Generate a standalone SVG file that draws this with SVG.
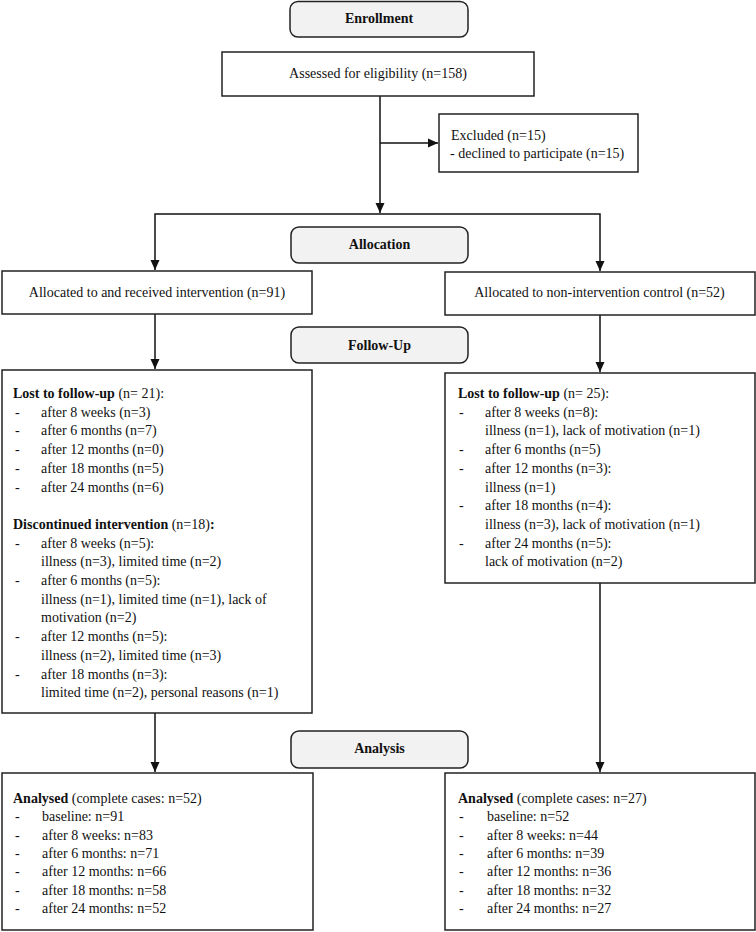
<svg xmlns="http://www.w3.org/2000/svg" width="756" height="932" viewBox="0 0 756 932">
<defs>
<marker id="arr" markerUnits="userSpaceOnUse" markerWidth="10" markerHeight="10" refX="10" refY="5" orient="auto">
<path d="M0,0.5 L10,5 L0,9.5 z" fill="#111"/>
</marker>
<style>
text{font-family:"Liberation Serif","Times New Roman",serif;font-size:14px;fill:#111}
.b{font-weight:bold}
.c{text-anchor:middle}
.hdr{fill:#f2f2f2;stroke:#222;stroke-width:1.5}
.box{fill:#fff;stroke:#222;stroke-width:1.5}
.ln{fill:none;stroke:#111;stroke-width:1.5}
</style>
</defs>
<rect width="756" height="932" fill="#fff"/>
<g id="connectors">
<path class="ln" d="M380 96 V213" marker-end="url(#arr)"/>
<path class="ln" d="M380 143 H438" marker-end="url(#arr)"/>
<path class="ln" d="M380 214 H155 V270" marker-end="url(#arr)"/>
<path class="ln" d="M380 214 H600 V271" marker-end="url(#arr)"/>
<path class="ln" d="M155 314 V369" marker-end="url(#arr)"/>
<path class="ln" d="M600 315 V372" marker-end="url(#arr)"/>
<path class="ln" d="M155 713 V772" marker-end="url(#arr)"/>
<path class="ln" d="M600 583 V772" marker-end="url(#arr)"/>
</g>
<g id="enrollment">
<rect class="hdr" x="290" y="1.5" width="178" height="35.5" rx="8"/>
<text class="b c" x="379" y="23">Enrollment</text>
</g>
<g id="assessed">
<rect class="box" x="222" y="52" width="312" height="44"/>
<text class="c" x="378" y="78">Assessed for eligibility (n=158)</text>
</g>
<g id="excluded">
<rect class="box" x="439" y="114" width="199" height="58"/>
<text x="451" y="140">Excluded (n=15)</text>
<text x="450" y="158">- declined to participate (n=15)</text>
</g>
<g id="allocation">
<rect class="hdr" x="291" y="227" width="177" height="36" rx="8"/>
<text class="b c" x="379.5" y="249">Allocation</text>
</g>
<g id="alloc-intervention">
<rect class="box" x="2" y="271" width="310" height="43"/>
<text class="c" x="157" y="297">Allocated to and received intervention (n=91)</text>
</g>
<g id="alloc-control">
<rect class="box" x="445" y="272" width="310" height="43"/>
<text class="c" x="599.5" y="297">Allocated to non-intervention control (n=52)</text>
</g>
<g id="followup">
<rect class="hdr" x="291" y="327" width="177" height="36" rx="8"/>
<text class="b c" x="379.5" y="350">Follow-Up</text>
</g>
<g id="followup-intervention">
<rect class="box" x="2" y="370" width="310" height="343"/>
<text x="13" y="398"><tspan class="b">Lost to follow-up</tspan> (n= 21):</text>
<text x="15" y="416.7">-</text><text x="41" y="416.7">after 8 weeks (n=3)</text>
<text x="15" y="435.4">-</text><text x="41" y="435.4">after 6 months (n=7)</text>
<text x="15" y="454.1">-</text><text x="41" y="454.1">after 12 months (n=0)</text>
<text x="15" y="472.8">-</text><text x="41" y="472.8">after 18 months (n=5)</text>
<text x="15" y="491.5">-</text><text x="41" y="491.5">after 24 months (n=6)</text>
<text x="13" y="528.9"><tspan class="b">Discontinued intervention</tspan> (n=18)<tspan class="b">:</tspan></text>
<text x="15" y="547.6">-</text><text x="41" y="547.6">after 8 weeks (n=5):</text>
<text x="41" y="566.3">illness (n=3), limited time (n=2)</text>
<text x="15" y="585">-</text><text x="41" y="585">after 6 months (n=5):</text>
<text x="41" y="603.7">illness (n=1), limited time (n=1), lack of</text>
<text x="41" y="622.4">motivation (n=2)</text>
<text x="15" y="641.1">-</text><text x="41" y="641.1">after 12 months (n=5):</text>
<text x="41" y="659.8">illness (n=2), limited time (n=3)</text>
<text x="15" y="678.5">-</text><text x="41" y="678.5">after 18 months (n=3):</text>
<text x="41" y="697.2">limited time (n=2), personal reasons (n=1)</text>
</g>
<g id="followup-control">
<rect class="box" x="445" y="373" width="310" height="210"/>
<text x="458" y="398"><tspan class="b">Lost to follow-up</tspan> (n= 25):</text>
<text x="459" y="416.7">-</text><text x="485" y="416.7">after 8 weeks (n=8):</text>
<text x="485" y="435.4">illness (n=1), lack of motivation (n=1)</text>
<text x="459" y="454.1">-</text><text x="485" y="454.1">after 6 months (n=5)</text>
<text x="459" y="472.8">-</text><text x="485" y="472.8">after 12 months (n=3):</text>
<text x="485" y="491.5">illness (n=1)</text>
<text x="459" y="510.2">-</text><text x="485" y="510.2">after 18 months (n=4):</text>
<text x="485" y="528.9">illness (n=3), lack of motivation (n=1)</text>
<text x="459" y="547.6">-</text><text x="485" y="547.6">after 24 months (n=5):</text>
<text x="485" y="566.3">lack of motivation (n=2)</text>
</g>
<g id="analysis">
<rect class="hdr" x="291" y="731" width="177" height="37" rx="8"/>
<text class="b c" x="379.5" y="753">Analysis</text>
</g>
<g id="analysed-intervention">
<rect class="box" x="2" y="773" width="311" height="157"/>
<text x="13" y="803"><tspan class="b">Analysed</tspan> (complete cases: n=52)</text>
<text x="15" y="821.3">-</text><text x="42" y="821.3">baseline: n=91</text>
<text x="15" y="839.7">-</text><text x="42" y="839.7">after 8 weeks: n=83</text>
<text x="15" y="858">-</text><text x="42" y="858">after 6 months: n=71</text>
<text x="15" y="876.3">-</text><text x="42" y="876.3">after 12 months: n=66</text>
<text x="15" y="894.7">-</text><text x="42" y="894.7">after 18 months: n=58</text>
<text x="15" y="913">-</text><text x="42" y="913">after 24 months: n=52</text>
</g>
<g id="analysed-control">
<rect class="box" x="445" y="773" width="310" height="157"/>
<text x="458" y="803"><tspan class="b">Analysed</tspan> (complete cases: n=27)</text>
<text x="459" y="821.3">-</text><text x="487" y="821.3">baseline: n=52</text>
<text x="459" y="839.7">-</text><text x="487" y="839.7">after 8 weeks: n=44</text>
<text x="459" y="858">-</text><text x="487" y="858">after 6 months: n=39</text>
<text x="459" y="876.3">-</text><text x="487" y="876.3">after 12 months: n=36</text>
<text x="459" y="894.7">-</text><text x="487" y="894.7">after 18 months: n=32</text>
<text x="459" y="913">-</text><text x="487" y="913">after 24 months: n=27</text>
</g>
</svg>
